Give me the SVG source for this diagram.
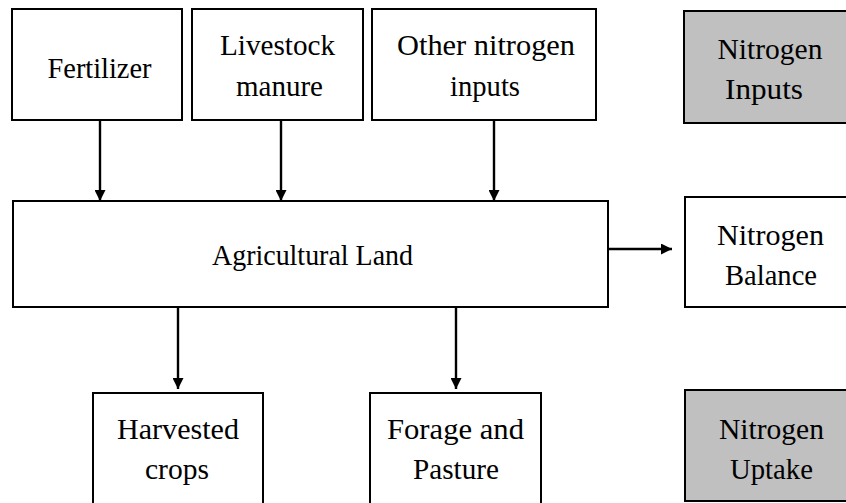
<svg xmlns="http://www.w3.org/2000/svg" width="846" height="503" viewBox="0 0 846 503">
<style>
.box{fill:#ffffff;stroke:#000;stroke-width:2}
.gray{fill:#c0c0c0;stroke:#000;stroke-width:2}
.t{font-family:"Liberation Serif","Times New Roman",serif;font-size:30px;fill:#000;text-anchor:middle}
.c{stroke:#000;stroke-width:2.4;fill:none;marker-end:url(#ah)}
</style>
<defs>
<marker id="ah" markerWidth="11" markerHeight="11" refX="11" refY="5.5" orient="auto" markerUnits="userSpaceOnUse">
<path d="M0,0 L11,5.5 L0,11 Z" fill="#000"/>
</marker>
</defs>
<rect width="846" height="503" fill="#fff"/>
<g id="fertilizer"><rect class="box" x="12" y="9" width="170" height="111"/><text class="t" x="99.5" y="78" textLength="104" lengthAdjust="spacingAndGlyphs">Fertilizer</text></g>
<g id="livestock"><rect class="box" x="192" y="9" width="171" height="111"/><text class="t" x="277.5" y="55" textLength="115" lengthAdjust="spacingAndGlyphs">Livestock</text><text class="t" x="279.5" y="96" textLength="87" lengthAdjust="spacingAndGlyphs">manure</text></g>
<g id="other"><rect class="box" x="372" y="9" width="224" height="111"/><text class="t" x="486" y="55" textLength="178" lengthAdjust="spacingAndGlyphs">Other nitrogen</text><text class="t" x="485" y="96" textLength="70" lengthAdjust="spacingAndGlyphs">inputs</text></g>
<g id="ninputs"><rect class="gray" x="684" y="11" width="170" height="112"/><text class="t" x="770" y="59" textLength="105" lengthAdjust="spacingAndGlyphs">Nitrogen</text><text class="t" x="764" y="99" textLength="78" lengthAdjust="spacingAndGlyphs">Inputs</text></g>
<g id="agland"><rect class="box" x="13" y="201" width="595" height="106"/><text class="t" x="312.5" y="265" textLength="201" lengthAdjust="spacingAndGlyphs">Agricultural Land</text></g>
<g id="nbalance"><rect class="box" x="685" y="197" width="170" height="110"/><text class="t" x="770.5" y="245" textLength="107" lengthAdjust="spacingAndGlyphs">Nitrogen</text><text class="t" x="771" y="285" textLength="92" lengthAdjust="spacingAndGlyphs">Balance</text></g>
<g id="harvested"><rect class="box" x="93" y="393" width="170" height="120"/><text class="t" x="178" y="439" textLength="122" lengthAdjust="spacingAndGlyphs">Harvested</text><text class="t" x="177" y="479" textLength="64" lengthAdjust="spacingAndGlyphs">crops</text></g>
<g id="forage"><rect class="box" x="370" y="393" width="171" height="120"/><text class="t" x="455.5" y="439" textLength="137" lengthAdjust="spacingAndGlyphs">Forage and</text><text class="t" x="456" y="479" textLength="86" lengthAdjust="spacingAndGlyphs">Pasture</text></g>
<g id="nuptake"><rect class="gray" x="685" y="390" width="170" height="111"/><text class="t" x="771.5" y="439" textLength="105" lengthAdjust="spacingAndGlyphs">Nitrogen</text><text class="t" x="771.5" y="479" textLength="83" lengthAdjust="spacingAndGlyphs">Uptake</text></g>
<g id="connectors">
<line class="c" x1="100" y1="120" x2="100" y2="201"/>
<line class="c" x1="281" y1="120" x2="281" y2="201"/>
<line class="c" x1="494" y1="120" x2="494" y2="201"/>
<line class="c" x1="608" y1="249" x2="672" y2="249"/>
<line class="c" x1="178" y1="307" x2="178" y2="389"/>
<line class="c" x1="456" y1="307" x2="456" y2="389"/>
</g>
</svg>
